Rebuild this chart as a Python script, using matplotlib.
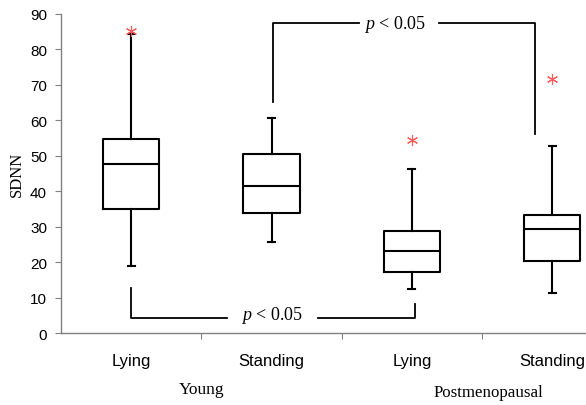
import matplotlib
matplotlib.use("Agg")
import matplotlib.pyplot as plt

plt.rcParams["mathtext.fontset"] = "custom"
plt.rcParams["mathtext.it"] = "Liberation Serif:italic"
plt.rcParams["mathtext.rm"] = "Liberation Serif"

categories = ["Lying", "Standing", "Lying", "Standing"]
groups = ["Young", "Postmenopausal"]
whislo = [19.1, 25.6, 12.6, 11.3]
q1 = [35.0, 34.0, 17.2, 20.4]
med = [47.6, 41.6, 23.1, 29.4]
q3 = [54.8, 50.5, 28.8, 33.4]
whishi = [84.4, 60.6, 46.3, 52.8]
outliers = [[85.2], [], [54.4], [71.7]]
yticks = [0, 10, 20, 30, 40, 50, 60, 70, 80, 90]
p_text = "$p$ < 0.05"

fig = plt.figure(figsize=(5.86, 4.06), dpi=100)
ax = fig.add_axes([0.104, 0.1766, 0.896, 0.7866])

stats = []
for i in range(4):
    stats.append(dict(whislo=whislo[i], q1=q1[i], med=med[i], q3=q3[i],
                      whishi=whishi[i], fliers=outliers[i]))
pos = [1, 2, 3, 4]
ax.bxp(stats, positions=pos, widths=0.40, showfliers=True,
       boxprops=dict(color="black", linewidth=1.5),
       medianprops=dict(color="black", linewidth=1.5),
       whiskerprops=dict(color="black", linewidth=1.5),
       capprops=dict(color="black", linewidth=1.5),
       capwidths=0.05,
       flierprops=dict(marker=(6, 2, 0), markeredgecolor="#ff5a5a",
                       markerfacecolor="#ff5a5a", markersize=8,
                       markeredgewidth=0.8, linestyle="none"))

ax.set_xlim(0.5, 4.24)
ax.set_ylim(0, 90)
ax.set_yticks(yticks)
ax.set_yticklabels([str(t) for t in yticks], fontsize=11, family="Liberation Sans")
ax.set_xticks([1.5, 2.5, 3.5])
ax.set_xticklabels([])
ax.set_xticks(pos, minor=True)
ax.set_xticklabels(categories, minor=True, fontsize=12, family="Liberation Sans")
ax.tick_params(axis="x", which="minor", length=0, pad=14)
ax.tick_params(axis="x", which="major", length=4, color="#808080", direction="out")
ax.tick_params(axis="y", length=4, color="#808080", direction="out", pad=6)
for s in ["top", "right"]:
    ax.spines[s].set_visible(False)
for s in ["left", "bottom"]:
    ax.spines[s].set_color("#808080")
    ax.spines[s].set_linewidth(1.0)

ax.set_ylabel("SDNN", family="Liberation Serif", fontsize=12, labelpad=4)

# brackets
lc = "black"
ax.plot([2.01, 2.01, 2.62], [65.1, 87.4, 87.4], color=lc, lw=1.3, clip_on=False)
ax.plot([3.19, 3.88, 3.88], [87.4, 87.4, 56.2], color=lc, lw=1.3, clip_on=False)
ax.text(2.88, 87.4, p_text, ha="center", va="center", fontsize=13,
        family="Liberation Serif")
ax.plot([1.0, 1.0, 1.68], [12.7, 4.3, 4.3], color=lc, lw=1.3)
ax.plot([2.33, 3.02, 3.02], [4.3, 4.3, 8.3], color=lc, lw=1.3)
ax.text(2.0, 5.4, p_text, ha="center", va="center", fontsize=13,
        family="Liberation Serif")

fig.text(201.7 / 586, 1 - 390 / 406, groups[0], ha="center", va="center",
         fontsize=12.5, family="Liberation Serif")
fig.text(488 / 586, 1 - 393 / 406, groups[1], ha="center", va="center",
         fontsize=12.2, family="Liberation Serif")

fig.savefig("out.png", dpi=100)
